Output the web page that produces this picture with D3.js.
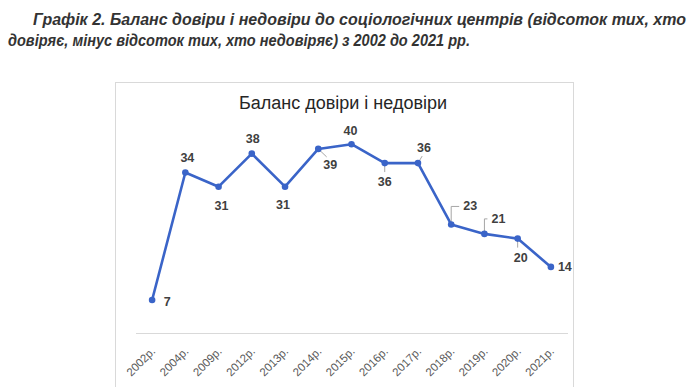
<!DOCTYPE html>
<html>
<head>
<meta charset="utf-8">
<script src="https://cdn.jsdelivr.net/npm/d3@7"></script>
<style>
  body { margin: 0; background: #fff; }
  svg { display: block; }
</style>
</head>
<body>
<svg id="chart" width="690" height="387"></svg>
<script>
const W = 690;
const H = 387;

const years = ['2002р.', '2004р.', '2009р.', '2012р.', '2013р.', '2014р.', '2015р.',
               '2016р.', '2017р.', '2018р.', '2019р.', '2020р.', '2021р.'];
const balance = [7, 34, 31, 38, 31, 39, 40, 36, 36, 23, 21, 20, 14];
const yDomain = [0, 50];

// where Excel put each data label relative to its point: [dx, dy, leader kind]
const labelPos = [
    [15, 2, ''], [2, -15, ''], [3, 19, ''], [1, -15, ''], [-2, 18, ''],
    [12, 16, 'diag'], [-1, -13, ''], [0, 19, 'down'], [6, -15, 'diag'],
    [19, -18, 'elbow'], [14, -15, 'elbow'], [3, 19, 'down'], [14, 0, '']
];

const svg = d3.select('#chart');

// caption above the chart
const caption1 = 'Графік 2. Баланс довіри і недовіри до соціологічних центрів (відсоток тих, хто';
const caption2 = 'довіряє, мінус відсоток тих, хто недовіряє) з 2002 до 2021 рр.';

const cap = svg.append('g')
    .attr('font-family', 'Liberation Sans, Arial, sans-serif')
    .attr('font-size', 16)
    .attr('font-weight', 'bold')
    .attr('font-style', 'italic')
    .attr('fill', '#333');

cap.append('text').attr('x', 33).attr('y', 25)
    .attr('textLength', 653).attr('lengthAdjust', 'spacingAndGlyphs')
    .text(caption1);
cap.append('text').attr('x', 8).attr('y', 46)
    .attr('textLength', 462).attr('lengthAdjust', 'spacingAndGlyphs')
    .text(caption2);

// chart area frame
svg.append('rect')
    .attr('x', 115.5).attr('y', 82.5)
    .attr('width', 458).attr('height', 320)
    .attr('fill', '#fff')
    .attr('stroke', '#d9d9d9');

svg.append('text')
    .attr('x', 343).attr('y', 109)
    .attr('text-anchor', 'middle')
    .attr('font-family', 'Liberation Sans, Arial, sans-serif')
    .attr('font-size', 18)
    .attr('fill', '#262626')
    .text('Баланс довіри і недовіри');

const x = d3.scaleBand()
    .domain(years)
    .range([135.5, 567.5]);

const y = d3.scaleLinear()
    .domain(yDomain)
    .range([333, 97]);

const cx = d => x(d) + x.bandwidth() / 2;

// category axis
const xAxis = svg.append('g')
    .attr('transform', 'translate(0,333)')
    .call(d3.axisBottom(x).tickSize(0).tickFormat(''));
xAxis.select('.domain').attr('stroke', '#d9d9d9').attr('stroke-width', 1.2);

svg.append('g')
    .selectAll('text')
    .data(years)
    .enter()
    .append('text')
    .attr('transform', d => 'translate(' + (cx(d) + 4) + ',352) rotate(-45)')
    .attr('text-anchor', 'end')
    .attr('font-family', 'Liberation Sans, Arial, sans-serif')
    .attr('font-size', 11.5)
    .attr('fill', '#595959')
    .text(d => d);

// series line
const points = years.map((d, i) => [cx(d), y(balance[i])]);

svg.append('path')
    .datum(points)
    .attr('d', d3.line())
    .attr('fill', 'none')
    .attr('stroke', '#3a64c8')
    .attr('stroke-width', 2.6)
    .attr('stroke-linejoin', 'round');

// leader lines for labels that were moved off their points
function leader(p, l) {
    const tx = p[0] + l[0], ty = p[1] + l[1];
    if (l[2] === 'elbow') {
        return 'M' + p[0] + ',' + p[1] + 'V' + ty + 'H' + (tx - 11);
    }
    if (l[2] === 'down') {
        return 'M' + p[0] + ',' + p[1] + 'V' + (p[1] + 9);
    }
    // diagonal towards the label corner
    const ex = p[0] + l[0] * 0.7;
    const ey = p[1] + (l[1] > 0 ? l[1] - 8 : l[1] + 8);
    return 'M' + p[0] + ',' + p[1] + 'L' + ex + ',' + ey;
}

svg.append('g')
    .selectAll('path')
    .data(points.map((p, i) => [p, labelPos[i]]).filter(d => d[1][2] !== ''))
    .enter()
    .append('path')
    .attr('d', d => leader(d[0], d[1]))
    .attr('fill', 'none')
    .attr('stroke', '#a6a6a6')
    .attr('stroke-width', 1);

svg.append('g')
    .selectAll('circle')
    .data(points)
    .enter()
    .append('circle')
    .attr('cx', d => d[0])
    .attr('cy', d => d[1])
    .attr('r', 3.3)
    .attr('fill', '#3a64c8');

svg.append('g')
    .selectAll('text')
    .data(balance)
    .enter()
    .append('text')
    .attr('x', (d, i) => points[i][0] + labelPos[i][0])
    .attr('y', (d, i) => points[i][1] + labelPos[i][1])
    .attr('text-anchor', 'middle')
    .attr('dominant-baseline', 'central')
    .attr('font-family', 'Liberation Sans, Arial, sans-serif')
    .attr('font-size', 12.5)
    .attr('font-weight', 'bold')
    .attr('fill', '#404040')
    .text(d => d);
</script>
</body>
</html>
